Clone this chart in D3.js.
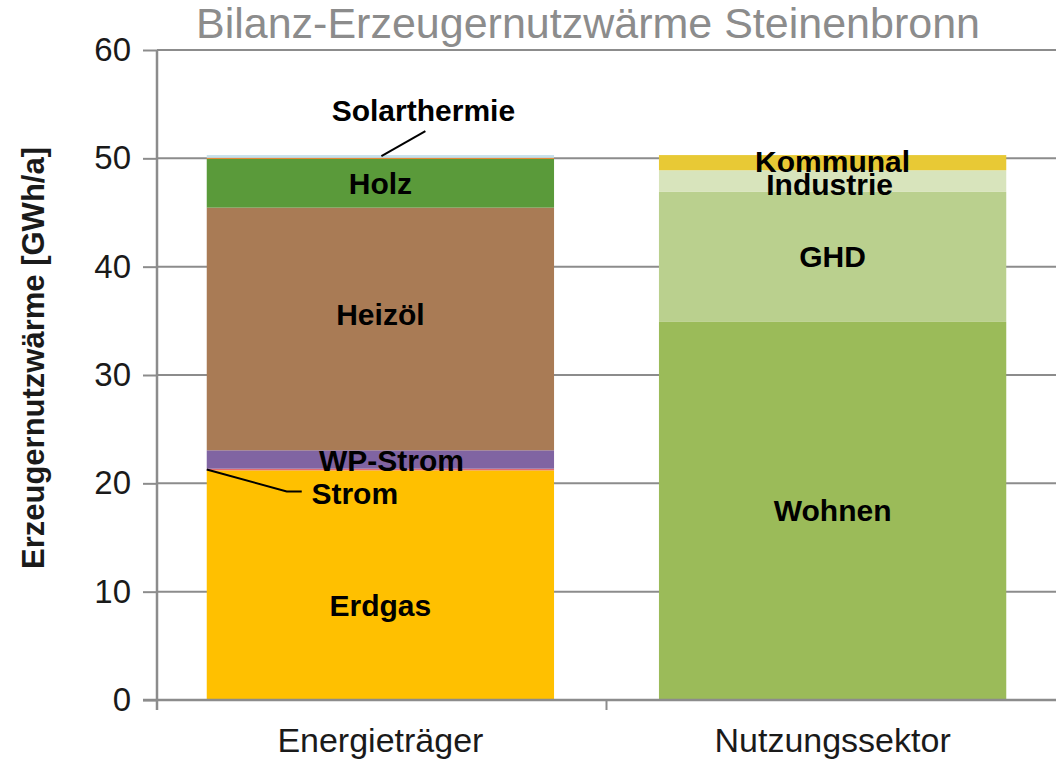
<!DOCTYPE html>
<html>
<head>
<meta charset="utf-8">
<script src="https://cdn.jsdelivr.net/npm/d3@7"></script>
<style>
  body { margin: 0; background: #fff; }
  text { font-family: "Liberation Sans", Arial, sans-serif; }
</style>
</head>
<body>
<div id="chart"></div>
<script>
const categories = ["Energieträger", "Nutzungssektor"];

const energySeries = ["Erdgas", "Strom", "WP-Strom", "Heizöl", "Holz", "Sonstige", "Solarthermie"];
const energyValues = [21.2, 0.15, 1.7, 22.4, 4.5, 0.1, 0.25];
const energyColors = ["#FFC000", "#E46C6C", "#8064A2", "#A97B55", "#5A9A3A", "#F08A2E", "#C6E0EC"];

const sectorSeries = ["Wohnen", "GHD", "Industrie", "Kommunal"];
const sectorValues = [34.9, 12.0, 2.0, 1.4];
const sectorColors = ["#9BBB59", "#BAD08E", "#D8E4BC", "#E8C935"];

const yTicks = [0, 10, 20, 30, 40, 50, 60];

const W = 1056, H = 759;
const margin = {top: 50, right: 0, bottom: 59, left: 157};

const svg = d3.select("#chart").append("svg")
    .attr("width", W)
    .attr("height", H);

const x = d3.scaleBand()
    .domain(categories)
    .range([margin.left, W - margin.right])
    .paddingInner(0.232)
    .paddingOuter(0.11);

const y = d3.scaleLinear()
    .domain([0, 60])
    .range([H - margin.bottom, margin.top]);

// gridlines
svg.append("g")
    .selectAll("line")
    .data(yTicks.filter(d => d > 0))
    .join("line")
    .attr("x1", margin.left)
    .attr("x2", W)
    .attr("y1", d => y(d))
    .attr("y2", d => y(d))
    .attr("stroke", "#8c8c8c")
    .attr("stroke-width", 2);

// stacks
function stackOf(names, values, colors) {
    let acc = 0;
    return names.map((n, i) => {
        const d = {name: n, y0: acc, y1: acc + values[i], color: colors[i]};
        acc += values[i];
        return d;
    });
}
const stacks = [
    {cat: categories[0], parts: stackOf(energySeries, energyValues, energyColors)},
    {cat: categories[1], parts: stackOf(sectorSeries, sectorValues, sectorColors)}
];

stacks.forEach(s => {
    svg.append("g")
        .selectAll("rect")
        .data(s.parts)
        .join("rect")
        .attr("x", x(s.cat))
        .attr("width", x.bandwidth())
        .attr("y", d => y(d.y1))
        .attr("height", d => y(d.y0) - y(d.y1))
        .attr("fill", d => d.color);
});

// y axis
const yAxis = svg.append("g")
    .attr("transform", `translate(${margin.left},0)`)
    .call(d3.axisLeft(y).tickValues(yTicks).tickSize(14).tickPadding(12));
yAxis.select(".domain").attr("stroke", "#8c8c8c").attr("stroke-width", 2.5)
    .attr("d", `M0,${y(60)}V${y(0) + 10}`);
yAxis.selectAll(".tick line").attr("stroke", "#8c8c8c").attr("stroke-width", 2);
yAxis.selectAll(".tick text").attr("font-size", 33).attr("fill", "#1a1a1a")
    .attr("font-family", "Liberation Sans, Arial, sans-serif");

// x axis
const step = x.step();
const xBase = y(0);
svg.append("line")
    .attr("x1", margin.left - 14).attr("x2", W)
    .attr("y1", xBase).attr("y2", xBase)
    .attr("stroke", "#8c8c8c").attr("stroke-width", 2.5);
const bounds = [x(categories[0]) - x.paddingOuter() * step]
    .concat(categories.map(c => x(c) + x.bandwidth() + x.paddingInner() * step / 2));
svg.append("g").selectAll("line")
    .data(bounds)
    .join("line")
    .attr("x1", d => d).attr("x2", d => d)
    .attr("y1", xBase).attr("y2", xBase + 10)
    .attr("stroke", "#8c8c8c").attr("stroke-width", 2);
svg.append("g").selectAll("text")
    .data(categories)
    .join("text")
    .attr("x", d => x(d) + x.bandwidth() / 2)
    .attr("y", xBase + 52)
    .attr("text-anchor", "middle")
    .attr("font-size", 34)
    .attr("fill", "#1a1a1a")
    .text(d => d);

// title
svg.append("text")
    .attr("x", 588)
    .attr("y", 38)
    .attr("text-anchor", "middle")
    .attr("font-size", 43)
    .attr("fill", "#8c8c8c")
    .text("Bilanz-Erzeugernutzwärme Steinenbronn");

// y label
svg.append("text")
    .attr("transform", `translate(44,${(y(0) + y(60)) / 2 - 17}) rotate(-90)`)
    .attr("text-anchor", "middle")
    .attr("font-size", 31)
    .attr("font-weight", "bold")
    .attr("fill", "#1a1a1a")
    .text("Erzeugernutzwärme [GWh/a]");

// segment labels
const nudge = {"Heizöl": [0, -14], "Erdgas": [0, 20], "WP-Strom": [11, 1], "Kommunal": [0, -1], "Industrie": [-3, 3]};
stacks.forEach(s => {
    const cx = x(s.cat) + x.bandwidth() / 2;
    const left = x(s.cat);
    s.parts.forEach(p => {
        const cy = (y(p.y0) + y(p.y1)) / 2;
        if (p.name === "Sonstige") return;
        const lbl = svg.append("text")
            .attr("text-anchor", "middle")
            .attr("dominant-baseline", "central")
            .attr("font-size", 30)
            .attr("font-weight", "bold")
            .attr("fill", "#000")
            .text(p.name);
        if (p.name === "Strom") {
            svg.append("polyline")
                .attr("points", `${left},${cy} ${left + 80},${cy + 22} ${left + 95},${cy + 22}`)
                .attr("fill", "none").attr("stroke", "#000").attr("stroke-width", 2);
            lbl.attr("x", left + 148).attr("y", cy + 24);
        } else if (p.name === "Solarthermie") {
            svg.append("line")
                .attr("x1", cx + 1).attr("y1", y(p.y1) + 1)
                .attr("x2", cx + 45).attr("y2", y(p.y1) - 24)
                .attr("stroke", "#000").attr("stroke-width", 2);
            lbl.attr("x", cx + 43).attr("y", y(p.y1) - 45);
        } else {
            const n = nudge[p.name] || [0, 0];
            lbl.attr("x", cx + n[0]).attr("y", cy + n[1]);
        }
    });
});
</script>
</body>
</html>
